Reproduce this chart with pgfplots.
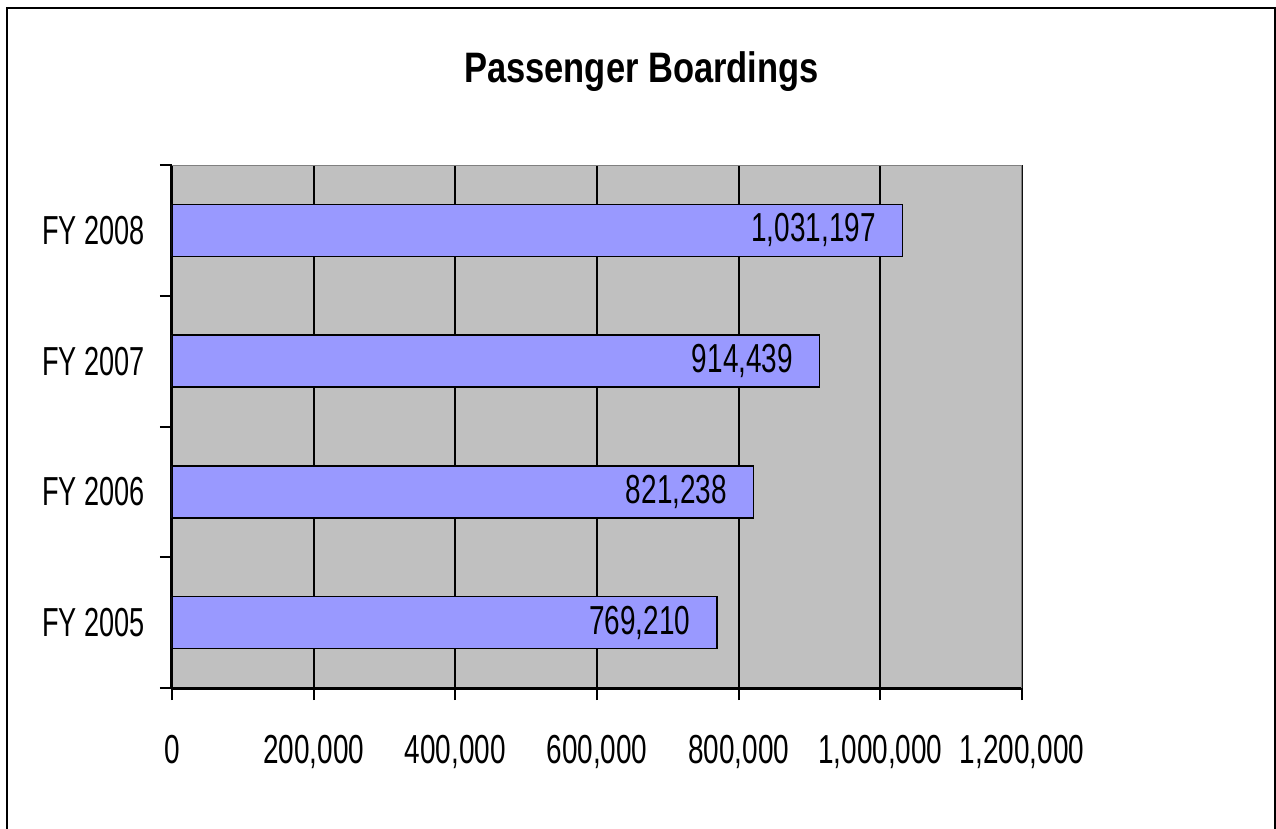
\documentclass[border=0pt]{standalone}
\usepackage{pgfplots}
\pgfplotsset{compat=1.18}
\usepackage{fontspec}
\setmainfont{Liberation Sans}
\newfontfamily\narrowfont{Liberation Sans}[FakeStretch=0.67]
\newfontfamily\valuefont{Liberation Sans}[FakeStretch=0.69]
\newfontfamily\titlefont{Liberation Sans}[FakeStretch=0.81]
\definecolor{barblue}{HTML}{9999FF}
\definecolor{plotgray}{HTML}{C0C0C0}
\pgfplotstableread{
i v lbl
0 769210 {769,210}
1 821238 {821,238}
2 914439 {914,439}
3 1031197 {1,031,197}
}\boardings
\begin{document}
\begin{tikzpicture}
\useasboundingbox (0,0) rectangle (638pt,-414.5pt);
\draw[line width=1.25pt] (3.5pt,-4pt) rectangle (637.5pt,-440pt);
\node[anchor=base, font=\titlefont\bfseries\fontsize{21.3pt}{25pt}\selectfont, inner sep=0pt] at (320.75pt,-41.5pt) {Passenger Boardings};
\begin{axis}[
  at={(86pt,-344pt)}, anchor=south west,
  scale only axis, width=425pt, height=261.5pt,
  xbar, bar width=26pt,
  xmin=0, xmax=1200000, ymin=-0.5, ymax=3.5,
  axis background/.style={fill=plotgray},
  axis x line*=bottom, axis y line*=left,
  axis line style={black, line width=1.5pt, -},
  xtick={0,200000,400000,600000,800000,1000000,1200000},
  scaled x ticks=false,
  xmajorgrids, grid style={black, line width=1pt},
  tick align=outside, major tick length=6pt,
  tick style={black, line width=1pt},
  /pgf/number format/fixed, /pgf/number format/precision=0,
  /pgf/number format/1000 sep={,},
  /pgf/number format/assume math mode=true,
  xticklabel style={font=\valuefont\fontsize{20.25pt}{24pt}\selectfont, inner sep=0pt, anchor=north, yshift=-17.5pt},
  ytick={-0.5,0.5,1.5,2.5,3.5}, yticklabels={,,,,},
  extra y ticks={0,1,2,3},
  extra y tick labels={FY 2005,FY 2006,FY 2007,FY 2008},
  extra y tick style={major tick length=0pt, yticklabel style={font=\narrowfont\fontsize{20.25pt}{24pt}\selectfont, inner sep=0pt, anchor=east, xshift=-13.5pt}},
  point meta=explicit symbolic,
  nodes near coords,
  nodes near coords style={anchor=east, xshift=-13pt, inner sep=0pt, font=\valuefont\fontsize{20.25pt}{24pt}\selectfont},
]
\addplot[fill=barblue, draw=black, line width=0.75pt] table[x=v, y=i, meta=lbl] {\boardings};
\draw[gray, line width=1pt] (rel axis cs:0,1) -- (rel axis cs:1,1) -- (rel axis cs:1,0);
\end{axis}
\end{tikzpicture}
\end{document}
